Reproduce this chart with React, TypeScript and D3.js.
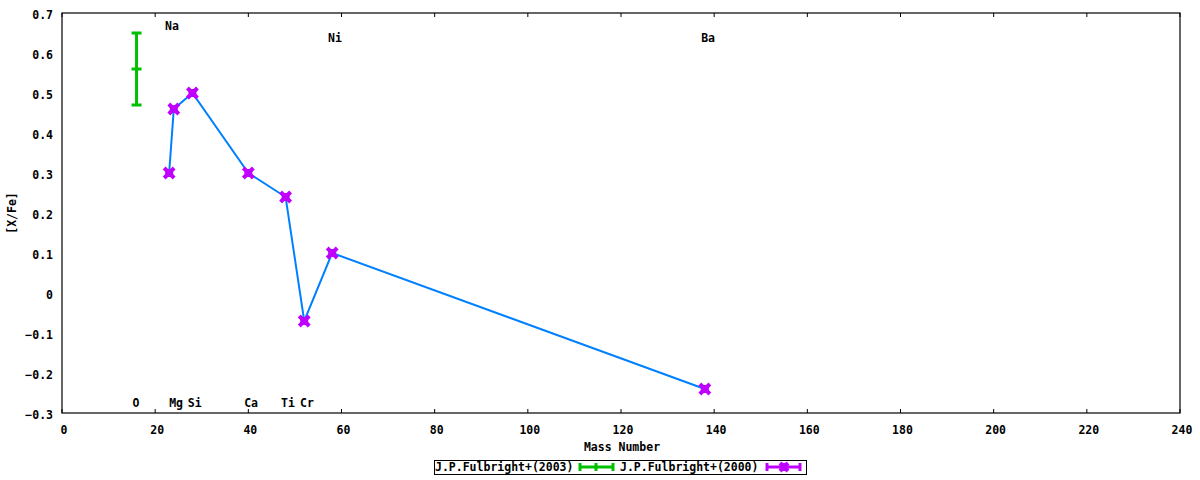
import React from "react";
import * as d3 from "d3";

const xTicks = [0, 20, 40, 60, 80, 100, 120, 140, 160, 180, 200, 220, 240];
const yTicks = [-0.3, -0.2, -0.1, 0, 0.1, 0.2, 0.3, 0.4, 0.5, 0.6, 0.7];

const fulbright2000Mass = [23, 24, 28, 40, 48, 52, 58, 138];
const fulbright2000Val = [0.3, 0.46, 0.5, 0.3, 0.24, -0.07, 0.1, -0.24];

const fulbright2003Mass = [16];
const fulbright2003Val = [0.56];
const fulbright2003Err = [0.09];

const labelNames = ["Na", "Ni", "Ba", "O", "Mg", "Si", "Ca", "Ti", "Cr"];
const labelMass = [23.6, 58.6, 138.7, 15.9, 24.5, 28.5, 40.6, 48.5, 52.6];
const labelY = [0.667, 0.638, 0.638, -0.275, -0.275, -0.275, -0.275, -0.275, -0.275];

const legendTitles = ["J.P.Fulbright+(2003)", "J.P.Fulbright+(2000)"];

const W = 1200;
const H = 480;
const M = { left: 62, right: 20, top: 13, bottom: 67 };
const FONT = "'DejaVu Sans Mono', monospace";
const GREEN = "#00c000";
const PURPLE = "#c000ff";
const BLUE = "#0080ff";

function XMark({ x, y, s = 5 }: { x: number; y: number; s?: number }) {
  return (
    <g stroke={PURPLE} strokeWidth={4}>
      <line x1={x - s} y1={y - s} x2={x + s} y2={y + s} />
      <line x1={x - s} y1={y + s} x2={x + s} y2={y - s} />
      <rect x={x - 4} y={y - 4} width={8} height={8} fill={PURPLE} stroke="none" />
    </g>
  );
}

export default function App() {
  const x = d3.scaleLinear().domain([0, 240]).range([M.left, W - M.right]);
  const y = d3.scaleLinear().domain([-0.3, 0.7]).range([H - M.bottom, M.top]);
  const x0 = x(0), x1 = x(240), y0 = y(-0.3), y1 = y(0.7);

  const line = d3
    .line<number>()
    .x((_, i) => x(fulbright2000Mass[i]))
    .y((d) => y(d));

  const fmt = (v: number) => (Math.abs(v) < 1e-9 ? "0" : d3.format(".1f")(v));

  const legY = 467;
  return (
    <svg width={W} height={H} style={{ position: "absolute", left: 0, top: 0, background: "#fff" }}>
      <g fontFamily={FONT} fontWeight="bold" fontSize={11.5} fill="#000">
        {xTicks.map((t) => (
          <g key={"x" + t}>
            <line x1={x(t)} x2={x(t)} y1={y0} y2={y0 - 4} stroke="#000" />
            <line x1={x(t)} x2={x(t)} y1={y1} y2={y1 + 4} stroke="#000" />
            <text x={x(t) + 2} y={434} textAnchor="middle">{t}</text>
          </g>
        ))}
        {yTicks.map((t) => (
          <text key={"y" + t} x={53} y={y(t) + 5.5} textAnchor="end">{fmt(t)}</text>
        ))}
        <rect x={x0} y={y1} width={x1 - x0} height={y0 - y1} fill="none" stroke="#000" strokeWidth={1.2} />
        <text x={622} y={451} textAnchor="middle">Mass Number</text>
        <text transform={`translate(16,${(y0 + y1) / 2}) rotate(-90)`} textAnchor="middle">[X/Fe]</text>

        {labelNames.map((n, i) => (
          <text key={n} x={x(labelMass[i])} y={y(labelY[i]) + 4} textAnchor="middle">{n}</text>
        ))}

        {fulbright2003Mass.map((m, i) => {
          const cx = x(m);
          const v = fulbright2003Val[i];
          const e = fulbright2003Err[i];
          return (
            <g key={"e" + i} stroke={GREEN} strokeWidth={3}>
              <line x1={cx} x2={cx} y1={y(v + e)} y2={y(v - e)} />
              <line x1={cx - 5} x2={cx + 5} y1={y(v + e)} y2={y(v + e)} />
              <line x1={cx - 5} x2={cx + 5} y1={y(v - e)} y2={y(v - e)} />
              <line x1={cx - 5} x2={cx + 5} y1={y(v)} y2={y(v)} />
            </g>
          );
        })}

        <path d={line(fulbright2000Val) || ""} fill="none" stroke={BLUE} strokeWidth={2} />
        {fulbright2000Val.map((v, i) => (
          <XMark key={"m" + i} x={x(fulbright2000Mass[i])} y={y(v)} />
        ))}

        <rect x={434.5} y={460.5} width={372} height={14} fill="none" stroke="#000" strokeWidth={1} />
        <text x={435} y={legY + 4}>{legendTitles[0]}</text>
        <g stroke={GREEN} strokeWidth={3}>
          <line x1={580} x2={613} y1={legY} y2={legY} />
          <line x1={580} x2={580} y1={legY - 4} y2={legY + 4} />
          <line x1={613} x2={613} y1={legY - 4} y2={legY + 4} />
          <line x1={596} x2={596} y1={legY - 4} y2={legY + 4} />
        </g>
        <text x={620} y={legY + 4}>{legendTitles[1]}</text>
        <g stroke={PURPLE} strokeWidth={3}>
          <line x1={767} x2={800} y1={legY} y2={legY} />
          <line x1={767} x2={767} y1={legY - 4} y2={legY + 4} />
          <line x1={800} x2={800} y1={legY - 4} y2={legY + 4} />
        </g>
        <XMark x={784} y={legY} s={4} />
      </g>
    </svg>
  );
}
